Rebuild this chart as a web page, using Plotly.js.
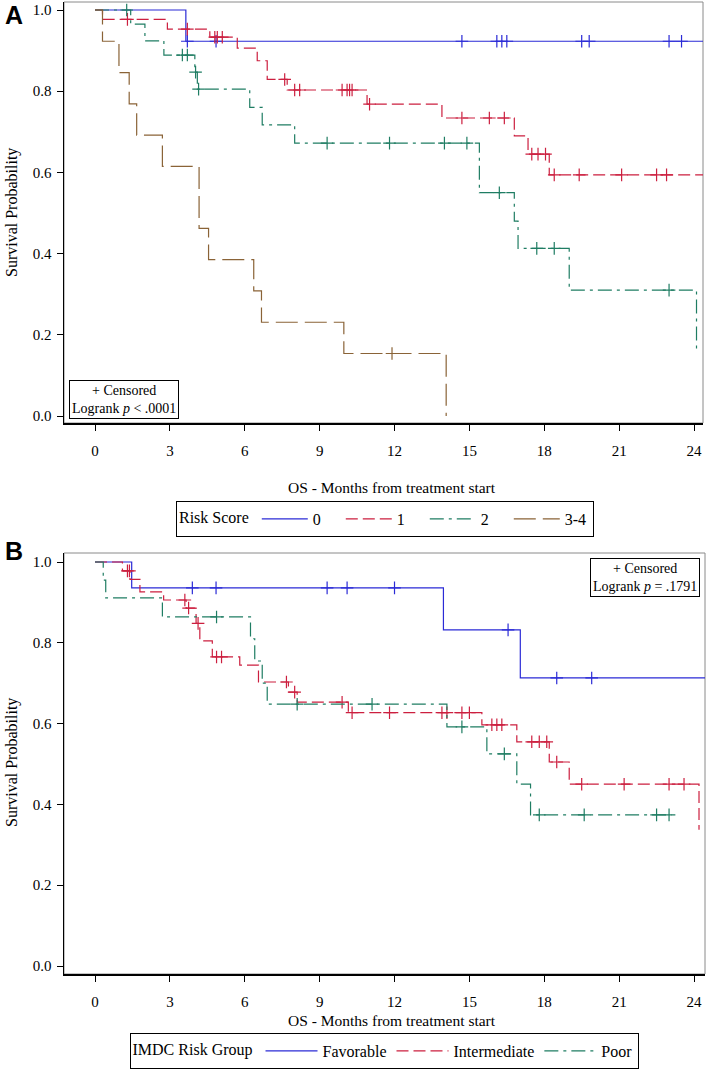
<!DOCTYPE html>
<html>
<head>
<meta charset="utf-8">
<script src="https://cdn.plot.ly/plotly-3.0.1.min.js"></script>
<style>
  html, body { margin: 0; padding: 0; background: #fff; }
  #grafico { width: 709px; height: 1073px; }
</style>
</head>
<body>
<div id="grafico"></div>
<script>
// ---------------------------------------------------------------------
// DATA — Kaplan-Meier steps (months, survival)
// ---------------------------------------------------------------------
// Panel A: Risk Score
const riskLabels = ["0", "1", "2", "3-4"];

const risk0Months = [0, 3.64, 24.4];
const risk0Surv   = [1, 0.923, 0.923];
const risk0Cens   = [3.7, 4.85, 14.7, 16.1, 16.3, 16.5, 19.5, 19.8, 23.0, 23.5];

const risk1Months = [0, 0.3, 2.9, 4.6, 5.7, 6.5, 6.9, 7.7, 10.9, 13.9, 16.8, 17.35, 18.2, 24.4];
const risk1Surv   = [1, 0.977, 0.953, 0.933, 0.906, 0.875, 0.829, 0.803, 0.768, 0.734, 0.69, 0.645, 0.594, 0.594];
const risk1Cens   = [1.3, 3.7, 4.8, 4.9, 5.1, 7.6, 8.0, 8.2, 9.9, 10.1, 10.2, 10.3, 11.0, 14.7, 15.8, 16.4,
                     17.5, 17.75, 18.05, 18.4, 19.4, 21.1, 22.5, 22.9];

const risk2Months = [0, 1.43, 2.0, 2.76, 4.0, 4.1, 6.2, 6.7, 8.0, 15.4, 16.8, 16.95, 19.0, 24.1];
const risk2Surv   = [1, 0.965, 0.924, 0.889, 0.847, 0.805, 0.76, 0.717, 0.672, 0.55, 0.48, 0.413, 0.31, 0.155];
const risk2Cens   = [1.27, 3.5, 3.7, 4.03, 4.15, 9.3, 11.8, 14.0, 14.9, 16.2, 17.7, 18.4, 23.0];

const risk34Months = [0, 0.3, 0.96, 1.37, 1.67, 2.7, 4.17, 4.55, 6.36, 6.67, 9.97, 14.07];
const risk34Surv   = [1, 0.923, 0.846, 0.769, 0.692, 0.615, 0.462, 0.385, 0.308, 0.231, 0.154, 0];
const risk34Cens   = [11.9];

// Panel B: IMDC Risk Group
const imdcLabels = ["Favorable", "Intermediate", "Poor"];

const favMonths = [0, 1.47, 13.96, 17.04, 24.5];
const favSurv   = [1, 0.936, 0.832, 0.713, 0.713];
const favCens   = [3.9, 4.85, 9.3, 10.1, 12.0, 16.55, 18.5, 19.9];

const intMonths = [0, 1.1, 1.4, 1.8, 2.75, 3.65, 4.05, 4.2, 4.7, 5.8, 6.55, 7.75, 8.1, 10.15, 15.5, 16.9, 18.2, 19.0, 24.2];
const intSurv   = [1, 0.978, 0.957, 0.926, 0.906, 0.886, 0.848, 0.805, 0.765, 0.745, 0.703, 0.678, 0.653, 0.627, 0.597, 0.555, 0.505, 0.45, 0.337];
const intCens   = [1.3, 1.38, 3.6, 3.75, 4.13, 4.87, 5.07, 7.67, 8.0, 9.9, 10.3, 11.8, 13.9, 14.1, 14.7, 15.0,
                   15.9, 16.1, 16.3, 17.5, 17.8, 18.1, 18.5, 19.5, 21.2, 23.0, 23.6];

const poorMonths = [0, 0.33, 0.43, 2.7, 6.23, 6.4, 6.7, 6.9, 14.1, 15.7, 16.9, 17.45, 23.1];
const poorSurv   = [1, 0.955, 0.911, 0.864, 0.81, 0.755, 0.7, 0.648, 0.592, 0.525, 0.45, 0.374, 0.374];
const poorCens   = [4.87, 8.1, 11.1, 14.7, 16.4, 17.8, 19.6, 22.5, 23.0];

const monthTicks = [0, 3, 6, 9, 12, 15, 18, 21, 24];
const survTicks  = [0, 0.2, 0.4, 0.6, 0.8, 1.0];

// ---------------------------------------------------------------------
// STYLE
// ---------------------------------------------------------------------
const SERIF = "Liberation Serif, Times New Roman, serif";
const W = 709, H = 1073;
const px = (x) => x / W;
const py = (y) => 1 - y / H;

const BLUE = "#2b2bd6", RED = "#cc1f3f", TEAL = "#1f7d63", BROWN = "#8a6337";
const DASH_RED = "12px,5px";
const DASH_TEAL = "14px,5px,3px,5px";
const DASH_BROWN = "22px,7px";

// survival level at a given time (step function)
function survAt(months, surv, t) {
  let s = surv[0];
  for (let i = 0; i < months.length; i++) if (months[i] <= t) s = surv[i];
  return s;
}

function curve(name, months, surv, cens, color, dash, axes, legend) {
  const line = {
    x: months, y: surv, type: "scatter", mode: "lines", name: name,
    line: { shape: "hv", color: color, width: 1.2, dash: dash },
    xaxis: axes[0], yaxis: axes[1], legend: legend, hoverinfo: "skip",
  };
  const marks = {
    x: cens, y: cens.map((t) => survAt(months, surv, t)),
    type: "scatter", mode: "markers", showlegend: false,
    marker: { symbol: "cross-thin", size: 9, color: color, line: { color: color, width: 1.2 } },
    xaxis: axes[0], yaxis: axes[1], hoverinfo: "skip",
  };
  return [line, marks];
}

const trazas = [
  ...curve(riskLabels[0], risk0Months, risk0Surv, risk0Cens, BLUE, "solid", ["x", "y"], "legend"),
  ...curve(riskLabels[1], risk1Months, risk1Surv, risk1Cens, RED, DASH_RED, ["x", "y"], "legend"),
  ...curve(riskLabels[2], risk2Months, risk2Surv, risk2Cens, TEAL, DASH_TEAL, ["x", "y"], "legend"),
  ...curve(riskLabels[3], risk34Months, risk34Surv, risk34Cens, BROWN, DASH_BROWN, ["x", "y"], "legend"),
  ...curve(imdcLabels[0], favMonths, favSurv, favCens, BLUE, "solid", ["x2", "y2"], "legend2"),
  ...curve(imdcLabels[1], intMonths, intSurv, intCens, RED, DASH_RED, ["x2", "y2"], "legend2"),
  ...curve(imdcLabels[2], poorMonths, poorSurv, poorCens, TEAL, DASH_TEAL, ["x2", "y2"], "legend2"),
];

// ---------------------------------------------------------------------
// LAYOUT
// ---------------------------------------------------------------------
const tickFont = { family: SERIF, size: 15, color: "#000" };

function ejeX(domain, range, anchor) {
  return {
    domain: domain, range: range, anchor: anchor, tickvals: monthTicks,
    ticks: "outside", ticklen: 6, tickcolor: "#000", tickwidth: 1,
    showline: true, linecolor: "#000", linewidth: 1.5,
    showgrid: false, zeroline: false, fixedrange: true,
    tickfont: tickFont, ticklabelstandoff: 7,
  };
}
function ejeY(domain, range, anchor) {
  return {
    domain: domain, range: range, anchor: anchor, tickvals: survTicks, tickformat: ".1f",
    ticks: "outside", ticklen: 6, tickcolor: "#000", tickwidth: 1,
    showline: true, linecolor: "#000", linewidth: 1.5,
    showgrid: false, zeroline: false, fixedrange: true,
    tickfont: tickFont, ticklabelstandoff: 2,
  };
}

function leyenda(titulo, xc, yc, itemW) {
  return {
    orientation: "h", x: px(xc), xanchor: "center", y: py(yc), yanchor: "middle",
    bordercolor: "#000", borderwidth: 1, bgcolor: "#fff",
    font: { family: SERIF, size: 16, color: "#000" },
    title: { text: titulo, side: "left", font: { family: SERIF, size: 16, color: "#000" } },
    itemwidth: itemW, traceorder: "normal",
  };
}

function marco(xref, yref) {
  return {
    type: "rect", xref: xref, yref: yref, x0: 0, x1: 1, y0: 0, y1: 1,
    line: { color: "#8a8a8a", width: 1 }, layer: "below",
  };
}

const textoSerif = (size) => ({ family: SERIF, size: size, color: "#000" });
const SANS_BOLD = { family: "Liberation Sans, Arial, sans-serif", size: 25, color: "#000" };

const layout = {
  width: W, height: H,
  margin: { l: 0, r: 0, t: 0, b: 0 },
  paper_bgcolor: "#fff", plot_bgcolor: "#fff",
  showlegend: true,
  xaxis: ejeX([px(64), px(703)], [-1.242, 24.36], "y"),
  yaxis: ejeY([py(423), py(2)], [-0.0172, 1.0197], "x"),
  xaxis2: ejeX([px(64), px(705)], [-1.242, 24.44], "y2"),
  yaxis2: ejeY([py(974), py(553)], [-0.0198, 1.0223], "x2"),
  legend: Object.assign(leyenda("Risk Score", 385, 519, 46), { entrywidth: 23, entrywidthmode: "pixels" }),
  legend2: leyenda("IMDC Risk Group", 384, 1051, 52),
  shapes: [marco("x domain", "y domain"), marco("x2 domain", "y2 domain")],
  annotations: [
    { text: "<b>A</b>", x: px(3), y: py(15), xref: "paper", yref: "paper", xanchor: "left", yanchor: "middle",
      showarrow: false, font: SANS_BOLD },
    { text: "<b>B</b>", x: px(3), y: py(551), xref: "paper", yref: "paper", xanchor: "left", yanchor: "middle",
      showarrow: false, font: SANS_BOLD },
    { text: "Survival Probability", textangle: -90, x: px(12), y: py(213), xref: "paper", yref: "paper",
      xanchor: "center", yanchor: "middle", showarrow: false, font: textoSerif(16) },
    { text: "Survival Probability", textangle: -90, x: px(12), y: py(763), xref: "paper", yref: "paper",
      xanchor: "center", yanchor: "middle", showarrow: false, font: textoSerif(16) },
    { text: "OS - Months from treatment start", x: px(392), y: py(487), xref: "paper", yref: "paper",
      xanchor: "center", yanchor: "middle", showarrow: false, font: textoSerif(15.5) },
    { text: "OS - Months from treatment start", x: px(392), y: py(1020), xref: "paper", yref: "paper",
      xanchor: "center", yanchor: "middle", showarrow: false, font: textoSerif(15.5) },
    { text: "+ Censored<br>Logrank <i>p</i> &lt; .0001", x: px(69), y: py(419), xref: "paper", yref: "paper",
      xanchor: "left", yanchor: "bottom", showarrow: false, align: "center",
      bordercolor: "#000", borderwidth: 1, borderpad: 2, bgcolor: "#fff", font: textoSerif(14) },
    { text: "+ Censored<br>Logrank <i>p</i> = .1791", x: px(700), y: py(558), xref: "paper", yref: "paper",
      xanchor: "right", yanchor: "top", showarrow: false, align: "center",
      bordercolor: "#000", borderwidth: 1, borderpad: 2, bgcolor: "#fff", font: textoSerif(14) },
  ],
};

Plotly.newPlot("grafico", trazas, layout, { staticPlot: true, displayModeBar: false });
</script>
</body>
</html>
